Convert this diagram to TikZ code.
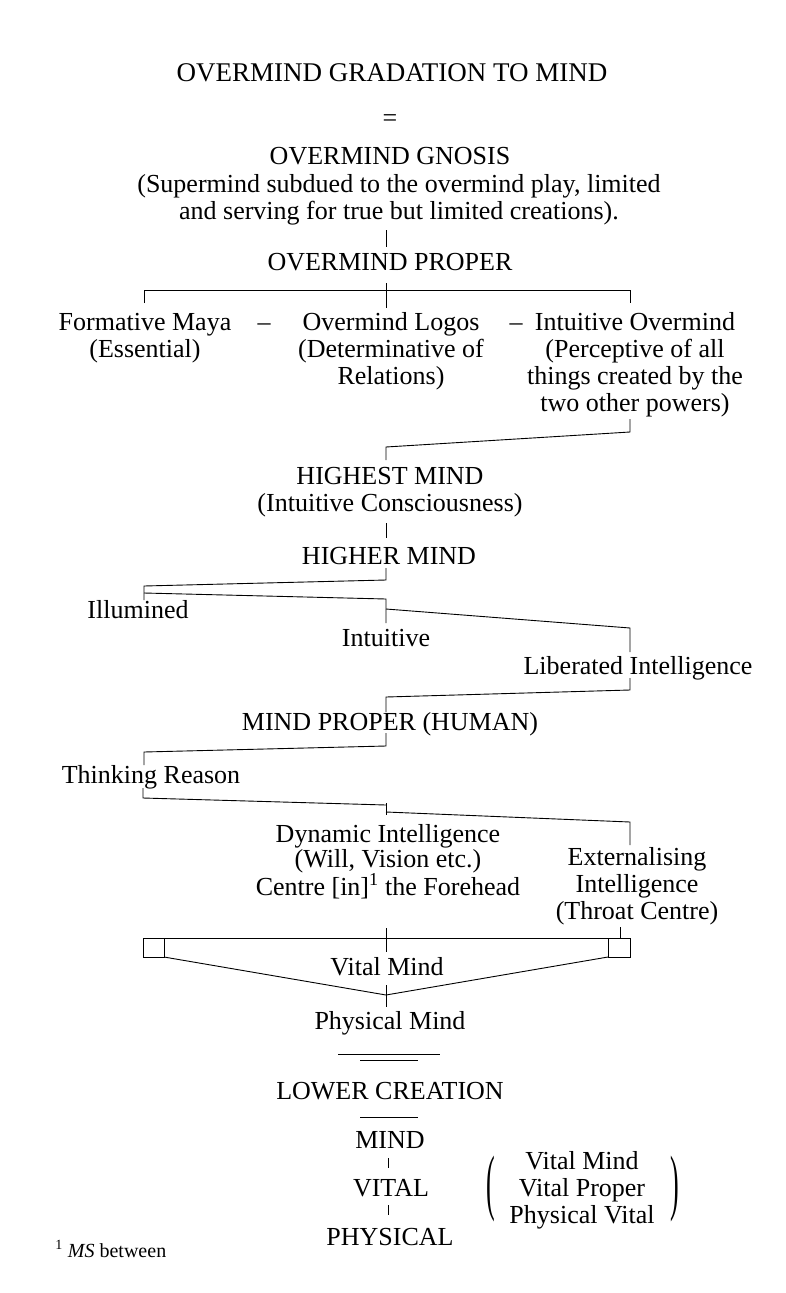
\documentclass[tikz,border=0pt]{standalone}
\usepackage{fontspec}
\usepackage{graphicx}
\setmainfont{Liberation Serif}
\begin{document}
\begin{tikzpicture}[x=1pt,y=-1pt,line width=0.9pt,
  txt/.style={inner sep=0pt,anchor=base,align=center,font=\fontsize{26}{27}\selectfont},
  paren/.style={inner sep=0pt,anchor=center,font=\fontsize{26}{27}\selectfont},
  tick/.style={line width=0.9pt}]
\useasboundingbox (0,0) rectangle (785,1293);
% texts (multi-line nodes: position = baseline of the last line)
\node[txt,font=\fontsize{27}{28}\selectfont] (title) at (392,81) {OVERMIND GRADATION TO MIND};
\node[txt] (eq) at (390,126) {=};
\node[txt] (gnosis) at (390,164) {OVERMIND GNOSIS};
\node[txt] (super) at (399,219) {(Supermind subdued to the overmind play, limited\\and serving for true but limited creations).};
\node[txt] (omp) at (390,270) {OVERMIND PROPER};
\node[txt] (maya) at (145,357) {Formative Maya\\(Essential)};
\node[txt] (d1) at (264,330) {–};
\node[txt] (logos) at (391,384) {Overmind Logos\\(Determinative of\\Relations)};
\node[txt] (d2) at (516,330) {–};
\node[txt] (intom) at (635,411) {Intuitive Overmind\\(Perceptive of all\\things created by the\\two other powers)};
\node[txt] (highest) at (390,511) {HIGHEST MIND\\(Intuitive Consciousness)};
\node[txt] (higher) at (389,564) {HIGHER MIND};
\node[txt] (illum) at (138,618) {Illumined};
\node[txt] (intu) at (386,646) {Intuitive};
\node[txt] (lib) at (638,674) {Liberated Intelligence};
\node[txt] (mph) at (390,730) {MIND PROPER (HUMAN)};
\node[txt] (think) at (151,783) {Thinking Reason};
\node[txt,font=\fontsize{26}{25}\selectfont] (dyn) at (388,895) {Dynamic Intelligence\\(Will, Vision etc.)\\Centre [in]\textsuperscript{1} the Forehead};
\node[txt] (ext) at (637,919) {Externalising\\Intelligence\\(Throat Centre)};
\node[txt] (vm) at (387,975) {Vital Mind};
\node[txt] (pm) at (390,1029) {Physical Mind};
\node[txt] (lc) at (390,1099) {LOWER CREATION};
\node[txt] (mind) at (390,1148) {MIND};
\node[txt] (vital) at (391,1196) {VITAL};
\node[txt] (phys) at (390,1245) {PHYSICAL};
\node[txt] (vlist) at (582,1223) {Vital Mind\\Vital Proper\\Physical Vital};
\node[paren] (lpar) at (491,1189) {\scalebox{1}[2.8]{(}};
\node[paren] (rpar) at (675,1189) {\scalebox{1}[2.8]{)}};
\node[inner sep=0pt,anchor=base west,font=\fontsize{20}{22}\selectfont] (fn) at (55,1257) {\textsuperscript{1} \textit{MS} between};
% connectors
\draw[tick] (386,230) -- (386,247);
\draw[tick] (144,303) -- (144,290) -- (630,290) -- (630,303);
\draw[tick] (386,283) -- (386,308);
\draw[tick] (630,419) -- (630,432) -- (386,447) -- (386,460);
\draw[tick] (386,523) -- (386,538);
\draw[tick] (386,568) -- (386,580) -- (144,586) -- (144,600);
\draw[tick] (144,593) -- (386,599) -- (386,623);
\draw[tick] (386,609) -- (630,628) -- (630,652);
\draw[tick] (630,678) -- (630,690) -- (386,697) -- (386,712);
\draw[tick] (386,733) -- (386,746) -- (144,752) -- (144,765);
\draw[tick] (143,788) -- (143,798) -- (386,805);
\draw[tick] (386,803) -- (386,815);
\draw[tick] (386,812) -- (630,822) -- (630,845);
\draw[tick] (620,927) -- (620,938);
\draw[tick] (143,938) rectangle (164,957);
\draw[tick] (608,938) rectangle (630,957);
\draw[tick] (164,938) -- (608,938);
\draw[tick] (386,928) -- (386,952);
\draw[tick] (164,957) -- (386,995) -- (608,957);
\draw[tick] (386,985) -- (386,1007);
\draw[tick] (338,1054) -- (440,1054);
\draw[tick] (360,1060) -- (418,1060);
\draw[tick] (360,1117) -- (418,1117);
\draw[tick] (388,1158) -- (388,1168);
\draw[tick] (388,1205) -- (388,1215);
\end{tikzpicture}
\end{document}
